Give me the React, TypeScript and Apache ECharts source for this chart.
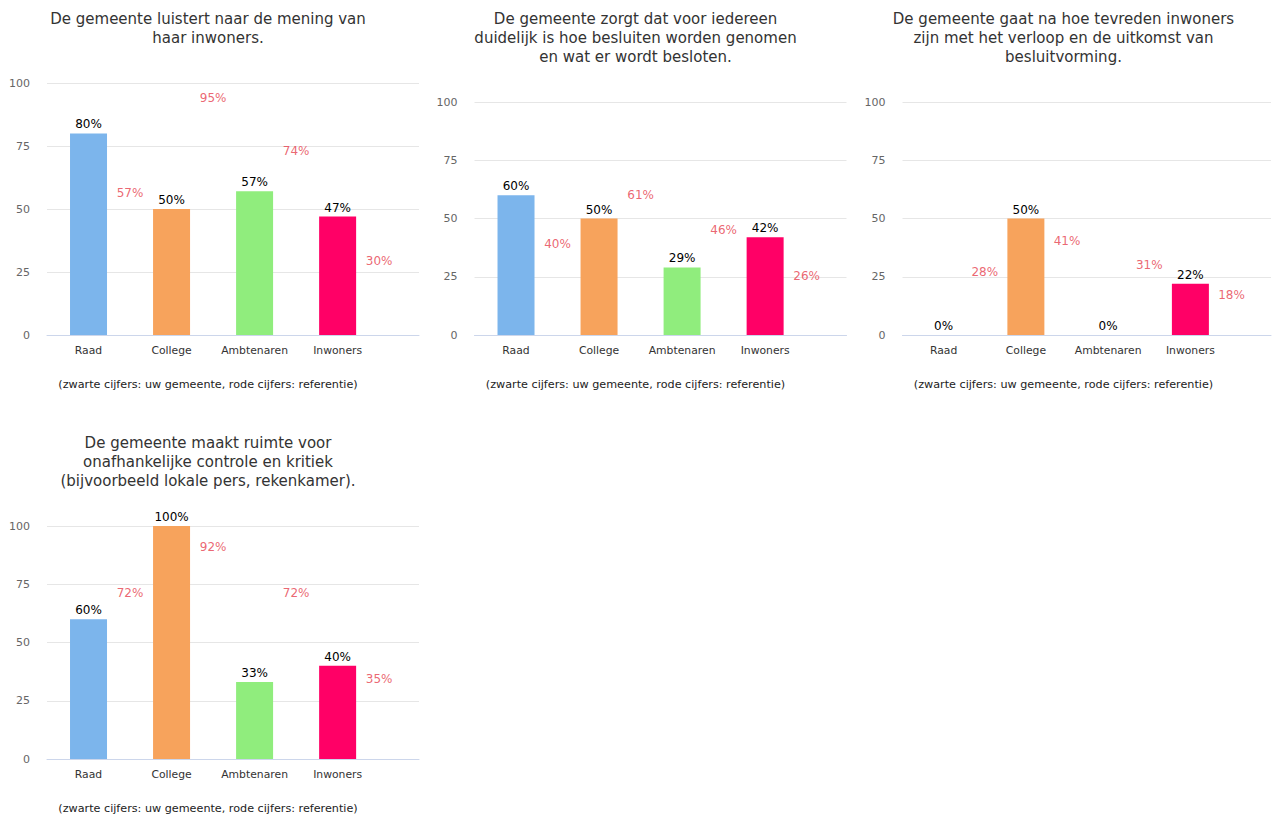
import React, { useEffect, useRef } from "react";
import * as echarts from "echarts";

const categories = ["Raad", "College", "Ambtenaren", "Inwoners"];
const barColors = ["#7cb5ec", "#f7a35c", "#90ed7d", "#ff0066"];

const titles = [
  "De gemeente luistert naar de mening van\nhaar inwoners.",
  "De gemeente zorgt dat voor iedereen\nduidelijk is hoe besluiten worden genomen\nen wat er wordt besloten.",
  "De gemeente gaat na hoe tevreden inwoners\nzijn met het verloop en de uitkomst van\nbesluitvorming.",
  "De gemeente maakt ruimte voor\nonafhankelijke controle en kritiek\n(bijvoorbeeld lokale pers, rekenkamer).",
];

const own1 = [80, 50, 57, 47];
const ref1 = [57, 95, 74, 30];
const own2 = [60, 50, 29, 42];
const ref2 = [40, 61, 46, 26];
const own3 = [0, 50, 0, 22];
const ref3 = [28, 41, 31, 18];
const own4 = [60, 100, 33, 40];
const ref4 = [72, 92, 72, 35];

const ownValues = [own1, own2, own3, own4];
const refValues = [ref1, ref2, ref3, ref4];

const yTicks = [0, 25, 50, 75, 100];
const caption = "(zwarte cijfers: uw gemeente, rode cijfers: referentie)";

const FONT = "DejaVu Sans";

export default function App() {
  const ref = useRef<HTMLDivElement>(null);
  useEffect(() => {
    if (!ref.current) return;
    const chart = echarts.init(ref.current, null, { renderer: "svg" });
    const colX = [0, 427.5, 855.5];
    const rowY = [0, 424];
    const titleArr: any[] = [];
    const grids: any[] = [];
    const xAxes: any[] = [];
    const yAxes: any[] = [];
    const series: any[] = [];
    titles.forEach((t, i) => {
      const c = i % 3;
      const r = Math.floor(i / 3);
      const xo = colX[c];
      const yo = rowY[r];
      const lines = t.split("\n").length;
      titleArr.push({
        text: t,
        left: xo + 208,
        top: yo + 9.5,
        padding: 0,
        textAlign: "center",
        textStyle: {
          fontFamily: FONT,
          fontSize: 15,
          fontWeight: "normal",
          color: "#333333",
          lineHeight: 19,
        },
      });
      titleArr.push({
        text: caption,
        left: xo + 208,
        top: yo + 377,
        padding: 0,
        textAlign: "center",
        textStyle: {
          fontFamily: FONT,
          fontSize: 11.2,
          fontWeight: "normal",
          color: "#222222",
          lineHeight: 14,
        },
      });
      const top = yo + (lines === 2 ? 83 : 102);
      grids.push({
        left: xo + 47,
        top,
        width: 372,
        height: yo + 335 - top,
        containLabel: false,
      });
      xAxes.push({
        type: "value",
        gridIndex: i,
        min: -0.5,
        max: 3.98,
        interval: 0.5,
        axisLine: { show: true, lineStyle: { color: "#ccd6eb", width: 1 } },
        axisTick: { show: false },
        splitLine: { show: false },
        axisLabel: {
          margin: 10,
          fontFamily: FONT,
          fontSize: 10.8,
          color: "#333333",
          showMinLabel: true,
          showMaxLabel: true,
          formatter: (v: number) => {
            const k = Math.round(v);
            if (Math.abs(v - k) > 1e-6 || k < 0 || k >= categories.length) return "";
            return categories[k];
          },
        },
      });
      yAxes.push({
        type: "value",
        gridIndex: i,
        min: yTicks[0],
        max: yTicks[yTicks.length - 1],
        interval: 25,
        axisLine: { show: false },
        axisTick: { show: false },
        splitLine: { show: true, lineStyle: { color: "#e6e6e6", width: 1 } },
        axisLabel: {
          margin: 17,
          fontFamily: FONT,
          fontSize: 11,
          color: "#666666",
        },
      });
      series.push({
        type: "bar",
        xAxisIndex: i,
        yAxisIndex: i,
        barWidth: 37,
        data: ownValues[i].map((v, k) => ({
          value: [k, v],
          itemStyle: { color: barColors[k] },
        })),
        label: {
          show: true,
          position: "top",
          distance: 3,
          fontFamily: FONT,
          fontSize: 12,
          color: "#000000",
          formatter: (p: any) => p.value[1] + "%",
        },
      });
      series.push({
        type: "scatter",
        xAxisIndex: i,
        yAxisIndex: i,
        symbolSize: 1,
        silent: true,
        itemStyle: { color: "rgba(0,0,0,0)" },
        data: refValues[i].map((v, k) => [k + 0.5, v]),
        label: {
          show: true,
          position: "inside",
          offset: [0, 2],
          fontFamily: FONT,
          fontSize: 12,
          color: "#e63e4e",
          formatter: (p: any) => p.value[1] + "%",
        },
      });
    });
    chart.setOption({
      animation: false,
      backgroundColor: "#ffffff",
      title: titleArr,
      grid: grids,
      xAxis: xAxes,
      yAxis: yAxes,
      series,
    });
    return () => chart.dispose();
  }, []);
  return (
    <div
      ref={ref}
      style={{ position: "fixed", left: 0, top: 0, width: 1274, height: 816 }}
    />
  );
}
